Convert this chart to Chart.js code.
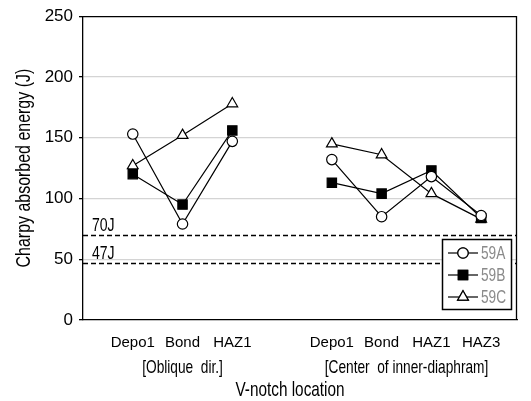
<!DOCTYPE html>
<html>
<head>
<meta charset="utf-8">
<script src="https://cdn.jsdelivr.net/npm/chart.js@4.4.1/dist/chart.umd.min.js"></script>
<style>
html,body{margin:0;padding:0;background:#fff;}
#wrap{width:531px;height:401px;position:relative;}
</style>
</head>
<body>
<div id="wrap"><canvas id="c" width="531" height="401"></canvas></div>
<script>
const categories = ["Depo1","Bond","HAZ1","Depo1","Bond","HAZ1","HAZ3"];
const xPositions = [0,1,2,4,5,6,7];
const groupLabels = ["[Oblique  dir.]","[Center  of inner-diaphram]"];
const groupCenters = [1,5.5];
const yTicks = [0,50,100,150,200,250];
const series59A = [153,79,147,132,85,118,86];
const series59B = [120,95,156,113,104,123,84];
const series59C = [127,152,178,145,136,104,83];
const refLines = [70,47];
const refLabels = ["70J","47J"];
const seriesNames = ["59A","59B","59C"];

const FONT = "'Liberation Sans', Arial, sans-serif";

function pts(vals, idxs){ return idxs.map(i=>({x:xPositions[i], y:vals[i]})); }
const g1=[0,1,2], g2=[3,4,5,6];

function ds(name, vals, style, idxs){
  return Object.assign({
    label: name,
    data: pts(vals, idxs),
    borderColor:'#000',
    borderWidth:1.2,
    pointBorderWidth:1.2,
    tension:0,
    fill:false
  }, style);
}
const stA={pointStyle:'circle', pointRadius:5.2, pointBackgroundColor:'#fff', pointBorderColor:'#000'};
const stB={pointStyle:'rect', pointRadius:6.6, pointBackgroundColor:'#000', pointBorderColor:'#000'};
const stC={pointStyle:'triangle', pointRadius:6.2, pointBackgroundColor:'#fff', pointBorderColor:'#000'};

const datasets=[
  ds(seriesNames[0], series59A, stA, g1),
  ds(seriesNames[1], series59B, stB, g1),
  ds(seriesNames[2], series59C, stC, g1),
  ds(seriesNames[0], series59A, stA, g2),
  ds(seriesNames[1], series59B, stB, g2),
  ds(seriesNames[2], series59C, stC, g2),
];

function ctext(ctx, t, x, y, size, sx, align){
  ctx.save();
  ctx.translate(x,y); ctx.scale(sx,1);
  ctx.font = size+"px "+FONT;
  ctx.textAlign = align||'center';
  ctx.fillText(t,0,0);
  ctx.restore();
}

const extras = {
  id:'extras',
  beforeDatasetsDraw(chart){
    const {ctx, chartArea:a, scales:{x,y}} = chart;
    ctx.save();
    ctx.strokeStyle='#000'; ctx.lineWidth=1.3; ctx.setLineDash([5,3]);
    refLines.forEach(v=>{
      const py=Math.round(y.getPixelForValue(v))+0.5;
      ctx.beginPath(); ctx.moveTo(a.left,py); ctx.lineTo(a.right,py); ctx.stroke();
    });
    ctx.setLineDash([]);
    ctx.fillStyle='#000'; ctx.textBaseline='alphabetic';
    refLines.forEach((v,i)=>{
      const py=y.getPixelForValue(v);
      ctext(ctx, refLabels[i], a.left+9, py-4, 18, 0.78, 'left');
    });
    ctx.restore();
  },
  afterDraw(chart){
    const {ctx, chartArea:a, scales:{x,y}} = chart;
    ctx.save();
    ctx.strokeStyle='#000'; ctx.lineWidth=1.3;
    ctx.beginPath();
    ctx.moveTo(a.left, a.top+0.5); ctx.lineTo(a.right-0.5, a.top+0.5); ctx.lineTo(a.right-0.5, a.bottom);
    ctx.stroke();
    ctx.fillStyle='#000'; ctx.textBaseline='middle';
    groupLabels.forEach((t,i)=>{ ctext(ctx, t, x.getPixelForValue(groupCenters[i]), 368, 18.5, 0.74, 'center'); });
    ctext(ctx, "V-notch location", 290, 390, 21, 0.73, 'center');
    ctx.save();
    ctx.translate(24,(a.top+a.bottom)/2); ctx.rotate(-Math.PI/2);
    ctext(ctx, "Charpy absorbed energy (J)", 0, 0, 21, 0.76, 'center');
    ctx.restore();
    ctx.restore();
    ctx.save();
    const L={x:442,y:239,w:69,h:70};
    ctx.fillStyle='#fff'; ctx.fillRect(L.x,L.y,L.w,L.h);
    ctx.strokeStyle='#000'; ctx.lineWidth=1.5; ctx.strokeRect(L.x+0.5,L.y+0.5,L.w,L.h);
    const styles=[stA,stB,stC];
    ctx.textBaseline='middle';
    for(let i=0;i<3;i++){
      const cy=L.y+14+i*22;
      ctx.strokeStyle='#000'; ctx.lineWidth=1.2;
      ctx.beginPath(); ctx.moveTo(L.x+6,cy); ctx.lineTo(L.x+36,cy); ctx.stroke();
      ctx.fillStyle=styles[i].pointBackgroundColor;
      Chart.helpers.drawPoint(ctx,{pointStyle:styles[i].pointStyle, radius:styles[i].pointRadius, borderWidth:1.2},L.x+21,cy);
      ctx.fill(); ctx.stroke();
      ctx.fillStyle='#8a8a8a';
      ctext(ctx, seriesNames[i], L.x+39, cy+1, 18, 0.76, 'left');
    }
    ctx.restore();
  }
};

new Chart(document.getElementById('c'),{
  type:'line',
  data:{datasets},
  options:{
    responsive:false,
    animation:false,
    devicePixelRatio:1,
    layout:{padding:{left:0,top:14,right:14,bottom:0}},
    plugins:{legend:{display:false},tooltip:{enabled:false}},
    scales:{
      x:{
        type:'linear', min:-1, max:7.72,
        afterBuildTicks(s){ s.ticks = xPositions.map(v=>({value:v})); },
        ticks:{callback:(v,i)=>categories[i], color:'#000', font:{size:15, family:FONT}, padding:14, maxRotation:0, autoSkip:false},
        grid:{display:false, drawTicks:false},
        border:{color:'#000', width:1.3},
        afterFit(s){ s.height=81; }
      },
      y:{
        min:0,max:250,
        afterBuildTicks(s){ s.ticks = yTicks.map(v=>({value:v})); },
        ticks:{color:'#000', font:{size:17, family:FONT}, padding:6},
        grid:{color:(c)=> (c.tick && (c.tick.value===0||c.tick.value===250)) ? 'rgba(0,0,0,0)' : '#d4d4d4', tickColor:'#000', tickLength:4, lineWidth:1.3},
        border:{color:'#000', width:1.3},
        afterFit(s){ s.width=83; }
      }
    }
  },
  plugins:[extras]
});
</script>
</body>
</html>
